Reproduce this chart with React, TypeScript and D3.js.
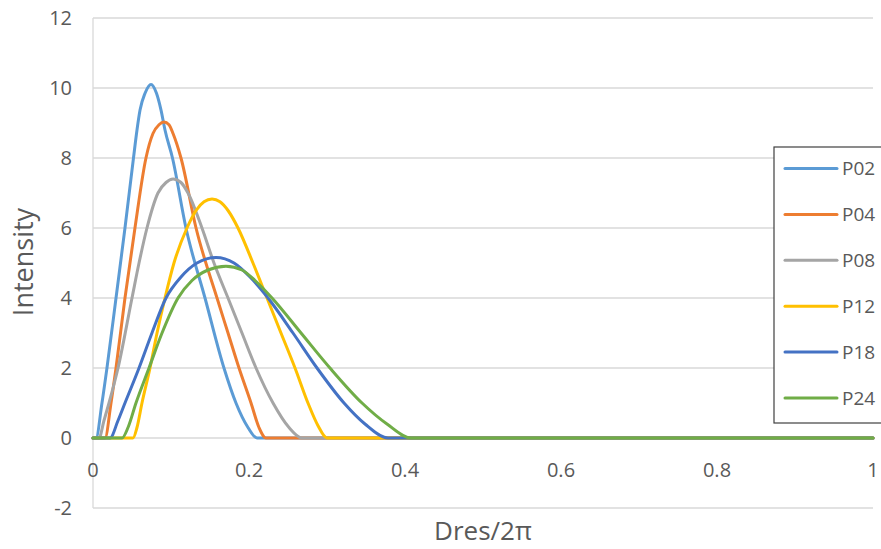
import React from "react";
import * as d3 from "d3";

const X_TICKS = [0, 0.2, 0.4, 0.6, 0.8, 1];
const Y_TICKS = [-2, 0, 2, 4, 6, 8, 10, 12];
const SERIES_NAMES = ["P02", "P04", "P08", "P12", "P18", "P24"];
const SERIES_COLORS = ["#5B9BD5", "#ED7D31", "#A5A5A5", "#FFC000", "#4472C4", "#70AD47"];

const P02_X = [0, 0.0038, 0.0115, 0.0179, 0.0295, 0.041, 0.0519, 0.0564, 0.0603, 0.0667, 0.0744, 0.0814, 0.0872, 0.0923, 0.1019, 0.1192, 0.1436, 0.1679, 0.1833, 0.1987, 0.2103, 1];
const P02_Y = [0, 0, 1, 2, 4, 6, 8, 8.8, 9.37, 9.85, 10.1, 9.85, 9.37, 8.8, 8, 6, 4, 2, 1, 0.3, 0, 0];

const P04_X = [0, 0.0154, 0.0231, 0.0295, 0.041, 0.0538, 0.0679, 0.0769, 0.0846, 0.091, 0.0974, 0.1026, 0.1128, 0.1321, 0.159, 0.1731, 0.1872, 0.2026, 0.2128, 0.2218, 1];
const P04_Y = [0, 0, 1, 2, 4, 6, 8, 8.7, 8.95, 9.03, 8.95, 8.7, 8, 6, 4, 3, 2, 1, 0.3, 0, 0];

const P08_X = [0, 0.0077, 0.0141, 0.0205, 0.0321, 0.05, 0.059, 0.0692, 0.0833, 0.0936, 0.1026, 0.1128, 0.1218, 0.1397, 0.1551, 0.1731, 0.191, 0.209, 0.2308, 0.2513, 0.2679, 1];
const P08_Y = [0, 0, 0.5, 1, 2, 4, 5, 6, 7, 7.3, 7.4, 7.3, 7, 6, 5, 4, 3, 2, 1, 0.3, 0, 0];

const P12_X = [0, 0.0513, 0.0564, 0.0628, 0.0731, 0.0821, 0.0923, 0.1038, 0.1205, 0.1321, 0.1423, 0.1526, 0.1628, 0.1731, 0.1859, 0.2051, 0.2231, 0.241, 0.259, 0.2756, 0.2885, 0.3, 1];
const P12_Y = [0, 0, 0.3, 1, 2, 3, 4, 5, 6, 6.5, 6.75, 6.83, 6.75, 6.5, 6, 5, 4, 3, 2, 1, 0.35, 0, 0];

const P18_X = [0, 0.0218, 0.0321, 0.041, 0.059, 0.0756, 0.0936, 0.1128, 0.1333, 0.1577, 0.1808, 0.2013, 0.2244, 0.2564, 0.2872, 0.3218, 0.3487, 0.3782, 1];
const P18_Y = [0, 0, 0.5, 1, 2, 3, 4, 4.6, 5, 5.16, 5, 4.6, 4, 3, 2, 1, 0.4, 0, 0];

const P24_X = [0, 0.0372, 0.0449, 0.0551, 0.0718, 0.0885, 0.109, 0.1269, 0.1474, 0.1705, 0.191, 0.2077, 0.2295, 0.2667, 0.3038, 0.3449, 0.3769, 0.4077, 1];
const P24_Y = [0, 0, 0.3, 1, 2, 3, 4, 4.5, 4.8, 4.91, 4.8, 4.5, 4, 3, 2, 1, 0.4, 0, 0];

const SERIES_X = [P02_X, P04_X, P08_X, P12_X, P18_X, P24_X];
const SERIES_Y = [P02_Y, P04_Y, P08_Y, P12_Y, P18_Y, P24_Y];

const W = 881;
const H = 549;
const FONT = "'Open Sans', 'DejaVu Sans', sans-serif";

export default function App() {
  const x = d3.scaleLinear().domain([0, 1]).range([93, 873]);
  const y = d3.scaleLinear().domain([-2, 12]).range([508, 18]);
  const line = d3
    .line<[number, number]>()
    .x((d) => x(d[0]))
    .y((d) => y(d[1]))
    .curve(d3.curveMonotoneX);

  const legendX = 774;
  const legendY = 147;
  const legendRowY = (i: number) => 168.5 + i * 45.9;

  return (
    <>
      <style>{`body{margin:0;}`}</style>
      <svg width={W} height={H} style={{ display: "block", background: "#fff" }}>
        {Y_TICKS.map((t) => (
          <line key={"g" + t} x1={x(0)} x2={x(1)} y1={y(t)} y2={y(t)} stroke="#d9d9d9" strokeWidth={1.3} />
        ))}
        <line x1={x(0)} x2={x(0)} y1={y(12)} y2={y(-2)} stroke="#d9d9d9" strokeWidth={1.3} />
        {Y_TICKS.map((t) => (
          <text key={"yl" + t} x={72} y={y(t)} dy="0.36em" textAnchor="end" fontFamily={FONT} fontSize={20} fill="#595959">
            {t}
          </text>
        ))}
        {X_TICKS.map((t) => (
          <text key={"xl" + t} x={x(t)} y={470} dy="0.36em" textAnchor="middle" fontFamily={FONT} fontSize={20} fill="#595959">
            {t}
          </text>
        ))}
        {SERIES_X.map((xs, i) => {
          const pts: [number, number][] = xs.map((v, j) => [v, SERIES_Y[i][j]]);
          return (
            <path key={SERIES_NAMES[i]} d={line(pts) || ""} fill="none" stroke={SERIES_COLORS[i]} strokeWidth={3} strokeLinejoin="round" strokeLinecap="round" />
          );
        })}
        <text x={483} y={540} textAnchor="middle" fontFamily={FONT} fontSize={26} fill="#595959">
          Dres/2π
        </text>
        <text transform="translate(33,262) rotate(-90)" textAnchor="middle" fontFamily={FONT} fontSize={27} fill="#595959">
          Intensity
        </text>
        <rect x={legendX} y={legendY} width={120} height={276} fill="#fff" stroke="#404040" strokeWidth={1.2} />
        {SERIES_NAMES.map((n, i) => (
          <g key={"lg" + n}>
            <line x1={785} x2={837} y1={legendRowY(i)} y2={legendRowY(i)} stroke={SERIES_COLORS[i]} strokeWidth={3} strokeLinecap="round" />
            <text x={842} y={legendRowY(i)} dy="0.36em" fontFamily={FONT} fontSize={19} fill="#595959">
              {n}
            </text>
          </g>
        ))}
      </svg>
    </>
  );
}
